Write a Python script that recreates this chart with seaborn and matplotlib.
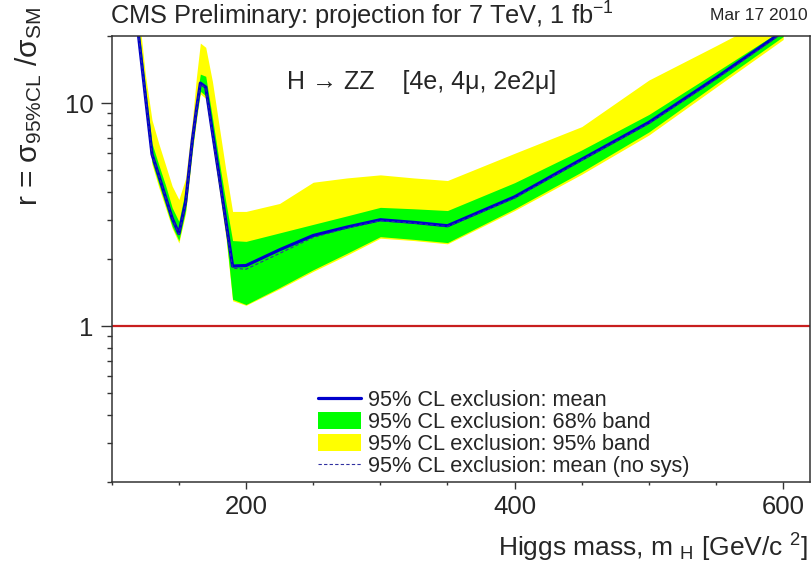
import matplotlib
matplotlib.use("Agg")
import matplotlib.pyplot as plt
import matplotlib.ticker as mticker
from matplotlib.lines import Line2D
from matplotlib.patches import Patch
import pandas as pd
import seaborn as sns

# Higgs mass points (GeV/c^2)
mass = [115, 120, 125, 130, 135, 140, 145, 150, 155, 160, 163, 166, 170, 175, 180,
        185, 190, 200, 225, 250, 275, 300, 325, 350, 400, 450, 500, 550, 600]
# expected 95% CL limit, mean
r_mean = [40, 20, 10.8, 5.9, 4.75, 3.8, 3.05, 2.6, 3.6, 6.8, 9.3, 12.3, 11.8, 7.4, 4.7,
          2.95, 1.86, 1.87, 2.2, 2.55, 2.78, 3.0, 2.92, 2.82, 3.8, 5.6, 8.2, 13.0, 21.0]
# mean without systematics
r_nosys = [40, 20, 10.8, 5.9, 4.75, 3.8, 3.05, 2.58, 3.55, 6.8, 9.3, 12.2, 11.7, 7.3, 4.6,
           2.9, 1.82, 1.80, 2.12, 2.5, 2.75, 2.97, 2.9, 2.80, 3.75, 5.55, 8.1, 12.8, 20.7]
# 68% band
band68_lo = [36, 18.5, 9.8, 5.45, 4.35, 3.5, 2.8, 2.42, 3.3, 6.2, 8.6, 11.3, 10.8, 6.8, 4.2,
             2.6, 1.32, 1.25, 1.49, 1.79, 2.12, 2.52, 2.45, 2.37, 3.36, 4.92, 7.43, 12.2, 19.9]
band68_hi = [45, 22, 12, 6.6, 5.3, 4.3, 3.4, 2.95, 4.1, 7.6, 10.4, 13.5, 13.2, 8.6, 5.5,
             3.6, 2.42, 2.40, 2.62, 2.86, 3.12, 3.41, 3.36, 3.30, 4.40, 6.17, 8.9, 13.8, 21.5]
# 95% band
band95_lo = [35, 18, 9.6, 5.3, 4.2, 3.4, 2.75, 2.36, 3.2, 6.0, 8.3, 11.0, 10.5, 6.6, 4.1,
             2.5, 1.30, 1.24, 1.47, 1.76, 2.08, 2.48, 2.42, 2.34, 3.30, 4.8, 7.2, 11.8, 19.3]
band95_hi = [50, 26, 13.5, 8.4, 6.6, 5.3, 4.25, 3.7, 4.6, 8.3, 13.0, 18.6, 17.8, 12.5, 7.9,
             5.0, 3.27, 3.27, 3.55, 4.42, 4.62, 4.77, 4.62, 4.5, 5.96, 7.85, 12.7, 18.1, 26]
SM_LEVEL = 1.0

df = pd.DataFrame({"mass": mass, "mean": r_mean, "nosys": r_nosys,
                   "lo68": band68_lo, "hi68": band68_hi,
                   "lo95": band95_lo, "hi95": band95_hi})

sns.set_style("ticks")
plt.rcParams["font.family"] = ["Liberation Sans", "DejaVu Sans"]
plt.rcParams["mathtext.default"] = "regular"

GREEN = "#00ff00"
YELLOW = "#ffff00"
BLUE = "#0000cc"
NAVY = "#3030a0"
RED = "#c81e1e"

fig = plt.figure(figsize=(8.12, 5.72), dpi=100)
ax = fig.add_axes([0.1376, 0.1573, 0.860, 0.7797])

ax.fill_between(df["mass"], df["lo95"], df["hi95"], color=YELLOW, lw=0)
ax.fill_between(df["mass"], df["lo68"], df["hi68"], color=GREEN, lw=0)
sns.lineplot(data=df, x="mass", y="mean", ax=ax, color=BLUE, lw=2.3)
sns.lineplot(data=df, x="mass", y="nosys", ax=ax, color=NAVY, lw=0.8, dashes=False,
             linestyle=(0, (3, 2)))
ax.axhline(SM_LEVEL, color=RED, lw=1.6)

ax.set_yscale("log")
ax.set_xlim(100, 620)
ax.set_ylim(0.2, 20)

ax.xaxis.set_major_locator(mticker.FixedLocator([200, 400, 600]))
ax.xaxis.set_minor_locator(mticker.MultipleLocator(50))
ax.yaxis.set_major_locator(mticker.FixedLocator([1, 10]))
ax.yaxis.set_major_formatter(mticker.FixedFormatter(["1", "10"]))
ax.yaxis.set_minor_locator(mticker.LogLocator(base=10, subs=range(2, 10)))
ax.yaxis.set_minor_formatter(mticker.NullFormatter())

ax.tick_params(axis="x", which="major", direction="out", length=5, width=1, pad=4,
               labelsize=18.5, color="#333333")
ax.tick_params(axis="x", which="minor", direction="out", length=2.5, width=1, color="#333333")
ax.tick_params(axis="y", which="major", direction="out", length=8, width=1, pad=5,
               labelsize=18.5, color="#333333")
ax.tick_params(axis="y", which="minor", direction="out", length=3.6, width=1, color="#333333")
for s in ax.spines.values():
    s.set_color("#333333")
    s.set_linewidth(1.1)

ax.set_xlabel("")
ax.set_ylabel("")

# texts
fig.text(110 / 812, 1 - 16 / 572, "CMS Preliminary: projection for 7 TeV, 1 fb$^{-1}$",
         fontsize=18.3, ha="left", va="center")
fig.text(808 / 812, 1 - 16 / 572, "Mar 17 2010", fontsize=12.5, ha="right", va="center")
fig.text(287 / 812, 1 - 82 / 572, "H \u2192 ZZ    [4e, 4\u03bc, 2e2\u03bc]", fontsize=18,
         ha="left", va="center")
fig.text(808 / 812, 1 - 557 / 572, "Higgs mass, m $_{H}$ [GeV/c $^{2}$]", fontsize=19,
         ha="right", va="baseline")
fig.text(29 / 812, 1 - 7 / 572, "r = \u03c3$_{95\\%CL}$ /\u03c3$_{SM}$", fontsize=21.5,
         rotation=90, ha="center", va="top")

handles = [Line2D([], [], color=BLUE, lw=2.3),
           Patch(facecolor=GREEN, lw=0),
           Patch(facecolor=YELLOW, lw=0),
           Line2D([], [], color=NAVY, lw=0.8, linestyle=(0, (3, 2)))]
labels = ["95% CL exclusion: mean", "95% CL exclusion: 68% band",
          "95% CL exclusion: 95% band", "95% CL exclusion: mean (no sys)"]
ax.legend(handles, labels, loc="upper left", bbox_to_anchor=(318 / 812, 1 - 390 / 572),
          bbox_transform=fig.transFigure, frameon=False, fontsize=15.7,
          borderpad=0, borderaxespad=0, handlelength=1.95, handleheight=0.8,
          handletextpad=0.35, labelspacing=0.05)

fig.savefig("out.png", dpi=100)
